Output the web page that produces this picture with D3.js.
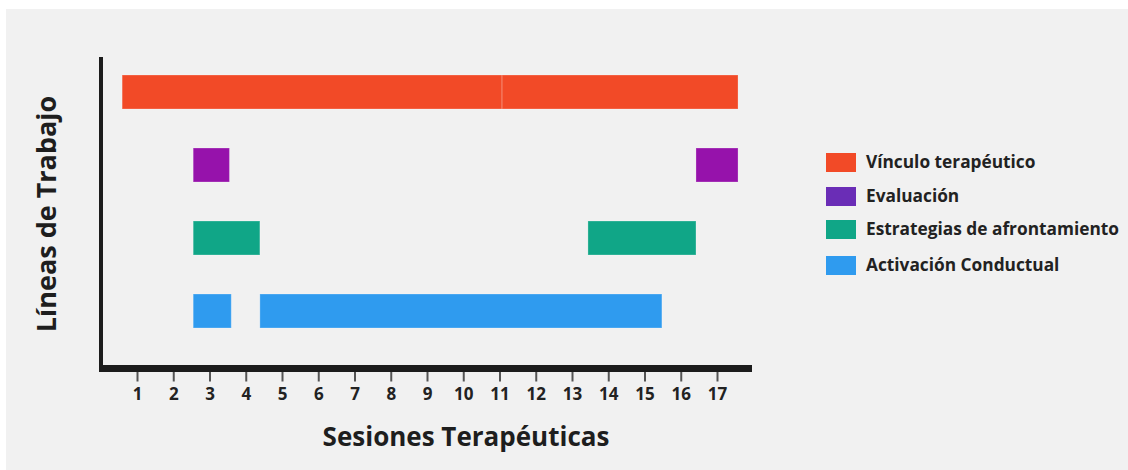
<!DOCTYPE html>
<html>
<head>
<meta charset="utf-8">
<script src="https://cdn.jsdelivr.net/npm/d3@7"></script>
<style>
  html, body { margin: 0; padding: 0; background: #fff; }
  svg { display: block; font-family: "Open Sans", "DejaVu Sans", sans-serif; }
</style>
</head>
<body>
<svg id="chart" width="1128" height="470"></svg>
<script>
// Work lines (rows, top to bottom)
const lines = ['Vínculo terapéutico', 'Evaluación', 'Estrategias de afrontamiento', 'Activación Conductual'];
const barColors = ['#f24a27', '#9612ab', '#10a687', '#2f9bef'];
const legendColors = ['#f24a27', '#6a2db6', '#10a687', '#2f9bef'];

// Sessions on the x axis
const sessions = [1, 2, 3, 4, 5, 6, 7, 8, 9, 10, 11, 12, 13, 14, 15, 16, 17];

// Bar segments (in session units)
const segmentLine  = [0, 0, 1, 1, 2, 2, 3, 3];
const segmentStart = [0.59, 11.07, 2.55, 16.42, 2.55, 13.44, 2.55, 4.39];
const segmentEnd   = [11.07, 17.58, 3.55, 17.58, 4.39, 16.42, 3.6, 15.48];

const svg = d3.select('#chart');
const W = 1128, H = 470;

// Background panel
svg.append('rect').attr('x', 6).attr('y', 9).attr('width', W - 6).attr('height', H - 9).attr('fill', '#f1f1f1');

// Scales
const x = d3.scaleLinear().domain([1, 17]).range([137, 717]);
const y = d3.scalePoint().domain(lines).range([92, 311]);
const barH = 34;
const axisY = 368.5;

// Bars
const segments = segmentLine.map((l, i) => ({ line: l, start: segmentStart[i], end: segmentEnd[i] }));
svg.append('g')
  .selectAll('rect')
  .data(segments)
  .enter().append('rect')
  .attr('x', d => x(d.start))
  .attr('y', d => y(lines[d.line]) - barH / 2)
  .attr('width', d => x(d.end) - x(d.start))
  .attr('height', barH)
  .attr('fill', d => barColors[d.line])
  .attr('stroke', '#ffffff')
  .attr('stroke-opacity', 0.25)
  .attr('stroke-width', 1);

// X axis ticks + labels
const xAxis = d3.axisBottom(x).tickValues(sessions).tickSize(10).tickSizeOuter(0).tickPadding(6);
const gx = svg.append('g')
  .attr('transform', `translate(0,${axisY + 3})`)
  .call(xAxis);
gx.select('.domain').remove();
gx.selectAll('.tick line').attr('stroke', '#555').attr('stroke-width', 2);
gx.selectAll('.tick text')
  .attr('fill', '#222')
  .style('font-family', '"Open Sans", sans-serif')
  .style('font-weight', 700)
  .style('font-size', '17px');

// Axis lines
svg.append('line')
  .attr('x1', 101).attr('x2', 101)
  .attr('y1', 57).attr('y2', axisY)
  .attr('stroke', '#1c1c1c').attr('stroke-width', 4);
svg.append('line')
  .attr('x1', 99).attr('x2', 752)
  .attr('y1', axisY).attr('y2', axisY)
  .attr('stroke', '#1c1c1c').attr('stroke-width', 7);

// Axis titles
svg.append('text')
  .attr('transform', 'translate(56,214) rotate(-90)')
  .attr('text-anchor', 'middle')
  .attr('fill', '#1e1e1e')
  .style('font-weight', 700)
  .style('font-size', '27px')
  .text('Líneas de Trabajo');

svg.append('text')
  .attr('x', 466).attr('y', 446)
  .attr('text-anchor', 'middle')
  .attr('fill', '#1e1e1e')
  .style('font-weight', 700)
  .style('font-size', '26px')
  .text('Sesiones Terapéuticas');

// Legend
const legend = svg.append('g')
  .selectAll('g')
  .data(lines)
  .enter().append('g')
  .attr('transform', (d, i) => `translate(826,${[153, 187, 220, 256][i]})`);
legend.append('rect')
  .attr('width', 30).attr('height', 19)
  .attr('fill', (d, i) => legendColors[i]);
legend.append('text')
  .attr('x', 40).attr('y', 15)
  .attr('fill', '#222')
  .style('font-weight', 700)
  .style('font-size', '17.3px')
  .text(d => d);
</script>
</body>
</html>
